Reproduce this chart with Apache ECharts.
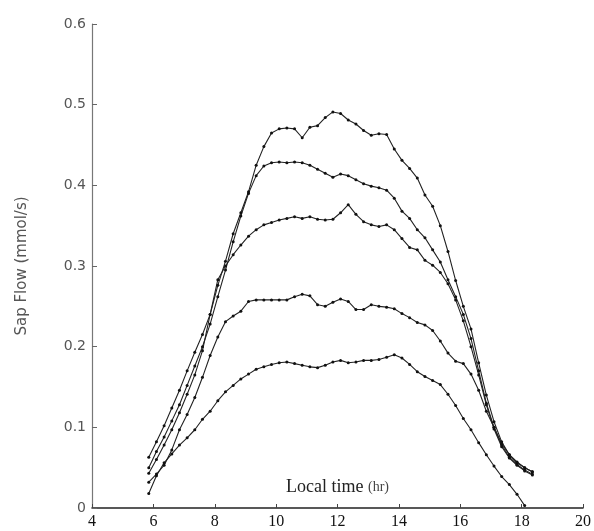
<!DOCTYPE html>
<html>
<head>
<meta charset="utf-8">
<title>Sap Flow</title>
<script src="https://cdn.jsdelivr.net/npm/echarts/dist/echarts.min.js"></script>
<style>
  html, body { margin: 0; padding: 0; background: #fff; }
  #myChart { width: 594px; height: 531px; }
</style>
</head>
<body>
<div id="myChart"></div>
<script>
// sampling times (local time, hr)
var hours = [5.85, 6.10, 6.35, 6.60, 6.85, 7.10, 7.35, 7.60, 7.85, 8.10,
  8.35, 8.60, 8.85, 9.10, 9.35, 9.60, 9.85, 10.10, 10.35, 10.60,
  10.85, 11.10, 11.35, 11.60, 11.85, 12.10, 12.35, 12.60, 12.85, 13.10,
  13.35, 13.60, 13.85, 14.10, 14.35, 14.60, 14.85, 15.10, 15.35, 15.60,
  15.85, 16.10, 16.35, 16.60, 16.85, 17.10, 17.35, 17.60, 17.85, 18.10, 18.35];

// sap flow (mmol/s), one array per tree
var flowA = [0.063, 0.082, 0.102, 0.124, 0.146, 0.170, 0.193, 0.215, 0.240, 0.276,
  0.306, 0.340, 0.366, 0.392, 0.425, 0.448, 0.465, 0.470, 0.471, 0.470,
  0.459, 0.472, 0.474, 0.484, 0.491, 0.489, 0.481, 0.476, 0.468, 0.462,
  0.464, 0.463, 0.445, 0.431, 0.421, 0.409, 0.388, 0.374, 0.350, 0.318,
  0.282, 0.250, 0.222, 0.180, 0.140, 0.107, 0.082, 0.066, 0.056, 0.050, 0.045];
var flowB = [0.050, 0.070, 0.088, 0.108, 0.128, 0.152, 0.176, 0.200, 0.228, 0.262,
  0.295, 0.330, 0.362, 0.390, 0.412, 0.424, 0.428, 0.429, 0.428, 0.429,
  0.428, 0.425, 0.420, 0.415, 0.410, 0.414, 0.412, 0.407, 0.402, 0.399,
  0.397, 0.394, 0.384, 0.368, 0.359, 0.345, 0.335, 0.320, 0.305, 0.283,
  0.262, 0.240, 0.210, 0.170, 0.130, 0.100, 0.078, 0.063, 0.054, 0.047, 0.042];
var flowC = [0.043, 0.060, 0.078, 0.097, 0.118, 0.141, 0.165, 0.195, 0.240, 0.283,
  0.300, 0.314, 0.326, 0.337, 0.345, 0.351, 0.354, 0.357, 0.359, 0.361,
  0.359, 0.361, 0.358, 0.357, 0.358, 0.366, 0.376, 0.364, 0.355, 0.351,
  0.349, 0.351, 0.345, 0.334, 0.323, 0.320, 0.307, 0.301, 0.292, 0.278,
  0.258, 0.232, 0.200, 0.165, 0.128, 0.098, 0.076, 0.062, 0.053, 0.046, 0.041];
var flowD = [0.032, 0.042, 0.053, 0.072, 0.097, 0.116, 0.137, 0.162, 0.189, 0.212,
  0.231, 0.238, 0.244, 0.256, 0.258, 0.258, 0.258, 0.258, 0.258, 0.262,
  0.265, 0.263, 0.252, 0.250, 0.255, 0.259, 0.256, 0.246, 0.246, 0.252,
  0.250, 0.249, 0.247, 0.241, 0.236, 0.230, 0.227, 0.220, 0.207, 0.192,
  0.182, 0.179, 0.166, 0.146, 0.120, 0.100, 0.080, 0.066, 0.057, 0.050, 0.045];
var flowE = [0.018, 0.040, 0.056, 0.067, 0.078, 0.087, 0.097, 0.110, 0.120, 0.133,
  0.144, 0.152, 0.160, 0.166, 0.172, 0.175, 0.178, 0.180, 0.181, 0.179,
  0.177, 0.175, 0.174, 0.177, 0.181, 0.183, 0.180, 0.181, 0.183, 0.183,
  0.184, 0.187, 0.190, 0.186, 0.178, 0.169, 0.163, 0.158, 0.153, 0.141,
  0.127, 0.111, 0.097, 0.081, 0.066, 0.052, 0.039, 0.029, 0.017, 0.003, null];

var xTicks = [4, 6, 8, 10, 12, 14, 16, 18, 20];

function pairs(vals) {
  var out = [];
  for (var i = 0; i < hours.length; i++) {
    if (vals[i] !== null) out.push([hours[i], vals[i]]);
  }
  return out;
}

function makeSeries(vals) {
  return {
    type: 'line',
    data: pairs(vals),
    symbol: 'circle',
    symbolSize: 3,
    showAllSymbol: true,
    lineStyle: { color: '#222', width: 1.1 },
    itemStyle: { color: '#111' },
    silent: true,
    animation: false
  };
}

var myChart = echarts.init(document.getElementById('myChart'));
myChart.setOption({
  animation: false,
  grid: { left: 92, right: 4, top: 24, bottom: 23 },
  xAxis: {
    type: 'value',
    min: 4,
    max: 20,
    interval: 2,
    name: 'Local time {s|(hr)}',
    nameLocation: 'middle',
    nameGap: -30,
    nameTextStyle: {
      fontFamily: 'Liberation Serif',
      fontSize: 18,
      color: '#222',
      rich: { s: { fontFamily: 'Liberation Serif', fontSize: 14, color: '#444' } }
    },
    axisLine: { lineStyle: { color: '#222', width: 1.5 } },
    axisTick: { inside: true, length: 4, lineStyle: { color: '#444' } },
    axisLabel: {
      margin: 6,
      fontFamily: 'Liberation Serif',
      fontSize: 16,
      color: '#111',
      formatter: function (v) { return xTicks.indexOf(v) >= 0 ? String(v) : ''; }
    },
    splitLine: { show: false }
  },
  yAxis: {
    type: 'value',
    min: 0,
    max: 0.6,
    interval: 0.1,
    name: 'Sap Flow (mmol/s)',
    nameLocation: 'middle',
    nameGap: 62,
    nameTextStyle: { fontFamily: 'DejaVu Sans', fontSize: 15, color: '#555' },
    axisLine: { show: true, lineStyle: { color: '#777', width: 1.2 } },
    axisTick: { show: true, inside: true, length: 5, lineStyle: { color: '#666' } },
    axisLabel: {
      margin: 6,
      fontFamily: 'DejaVu Sans',
      fontSize: 14,
      color: '#555',
      formatter: function (v) { return v === 0 ? '0' : v.toFixed(1); }
    },
    splitLine: { show: false }
  },
  series: [
    makeSeries(flowA),
    makeSeries(flowB),
    makeSeries(flowC),
    makeSeries(flowD),
    makeSeries(flowE)
  ]
});
</script>
</body>
</html>
